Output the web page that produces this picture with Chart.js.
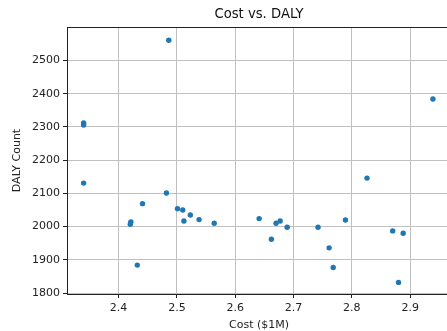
<!DOCTYPE html>
<html>
<head>
<meta charset="utf-8">
<script src="https://cdn.jsdelivr.net/npm/chart.js@4/dist/chart.umd.min.js"></script>
<style>
  html, body { margin: 0; padding: 0; background: #fff; overflow: hidden; }
  #wrap { width: 460px; height: 331px; position: relative; }
</style>
</head>
<body>
<div id="wrap"><canvas id="c"></canvas></div>
<script>
const costs = [2.486, 2.340, 2.340, 2.939, 2.340, 2.482, 2.441, 2.501, 2.510, 2.523, 2.421, 2.420, 2.512, 2.538, 2.564, 2.432, 2.641, 2.826, 2.670, 2.677, 2.689, 2.662, 2.742, 2.789, 2.761, 2.768, 2.870, 2.888, 2.880];
const dalys = [2561, 2312, 2306, 2384, 2131, 2101, 2069, 2054, 2050, 2035, 2014, 2007, 2017, 2021, 2010, 1884, 2024, 2146, 2010, 2017, 1998, 1962, 1998, 2020, 1936, 1877, 1987, 1980, 1832];
const xTicks = [2.4, 2.5, 2.6, 2.7, 2.8, 2.9];
const yTicks = [1800, 1900, 2000, 2100, 2200, 2300, 2400, 2500];
const xRange = [2.3115, 2.970];
const yRange = [1797, 2601];

const points = costs.map((c, i) => ({ x: c, y: dalys[i] }));
const FONT = "'DejaVu Sans', sans-serif";
const spine = '#222';
const gridColor = '#c0c0c0';

new Chart(document.getElementById('c'), {
  type: 'scatter',
  data: {
    datasets: [{
      data: points,
      backgroundColor: '#1f77b4',
      borderWidth: 0,
      pointRadius: 2.7,
      pointHoverRadius: 2.7
    }]
  },
  options: {
    responsive: true,
    maintainAspectRatio: false,
    animation: false,
    devicePixelRatio: 1,
    layout: { padding: { left: 0, right: 9, top: 0, bottom: 0 } },
    plugins: { legend: { display: false }, tooltip: { enabled: false }, title: { display: false } },
    scales: {
      x: {
        type: 'linear', position: 'bottom', min: xRange[0], max: xRange[1],
        afterBuildTicks: s => { s.ticks = xTicks.map(v => ({ value: v })); },
        afterFit: s => { s.height = 37; },
        grid: { color: gridColor, lineWidth: 1, drawTicks: true, tickLength: 4, tickColor: spine, tickWidth: 1 },
        border: { display: true, color: spine, width: 1 },
        ticks: { color: '#222', font: { family: FONT, size: 11 }, padding: 4, maxRotation: 0,
                 callback: v => Number(v).toFixed(1) },
        title: { display: true, text: 'Cost ($1M)', color: '#222', font: { family: FONT, size: 11 }, padding: { top: 0, bottom: -1 } }
      },
      x2: {
        type: 'linear', position: 'top', min: xRange[0], max: xRange[1],
        afterFit: s => { s.height = 27; },
        grid: { display: false, drawTicks: false },
        border: { display: true, color: spine, width: 1 },
        ticks: { display: false },
        title: { display: true, text: 'Cost vs. DALY', color: '#111', font: { family: FONT, size: 13.2 }, padding: { top: 7, bottom: 0 } }
      },
      y: {
        type: 'linear', position: 'left', min: yRange[0], max: yRange[1],
        afterBuildTicks: s => { s.ticks = yTicks.map(v => ({ value: v })); },
        afterFit: s => { s.width = 67; },
        grid: { color: gridColor, lineWidth: 1, drawTicks: true, tickLength: 4, tickColor: spine, tickWidth: 1 },
        border: { display: true, color: spine, width: 1 },
        ticks: { color: '#222', font: { family: FONT, size: 11 }, padding: 3,
                 callback: v => String(Math.round(v)) },
        title: { display: true, text: 'DALY Count', color: '#222', font: { family: FONT, size: 11 }, padding: { top: 10.5, bottom: 0 } }
      }
    }
  }
});
</script>
</body>
</html>
